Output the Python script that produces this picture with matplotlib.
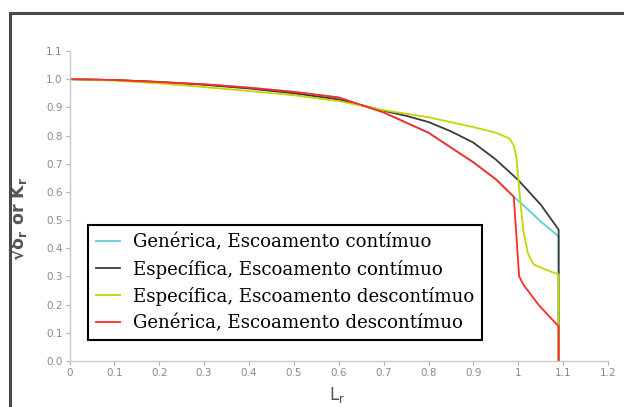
import matplotlib
matplotlib.use("Agg")
import matplotlib.pyplot as plt
from matplotlib.patches import Rectangle

# ---- data ----
x_gen = [0, 0.1, 0.2, 0.3, 0.4, 0.5, 0.6, 0.7, 0.8, 0.9, 0.95, 0.99]
y_gen = [1.0, 0.997, 0.99, 0.982, 0.97, 0.955, 0.935, 0.882, 0.81, 0.705, 0.645, 0.583]

x_gen_cont_tail = [1.02, 1.05, 1.09, 1.09]
y_gen_cont_tail = [0.54, 0.495, 0.442, 0.0]

x_gen_desc_tail = [1.002, 1.012, 1.026, 1.045, 1.065, 1.09, 1.09]
y_gen_desc_tail = [0.30, 0.27, 0.24, 0.20, 0.165, 0.123, 0.0]

x_esp_cont = [0, 0.1, 0.2, 0.3, 0.4, 0.5, 0.6, 0.7, 0.75, 0.8, 0.85, 0.9, 0.95, 1.0, 1.05, 1.09, 1.09]
y_esp_cont = [1.0, 0.997, 0.99, 0.98, 0.967, 0.95, 0.928, 0.888, 0.87, 0.848, 0.815, 0.775, 0.715, 0.642, 0.555, 0.466, 0.0]

x_esp_desc = [0, 0.1, 0.2, 0.3, 0.4, 0.5, 0.6, 0.7, 0.8, 0.9, 0.95, 0.98, 0.99, 0.996,
              1.0, 1.005, 1.012, 1.022, 1.034, 1.06, 1.09, 1.09]
y_esp_desc = [1.0, 0.995, 0.985, 0.972, 0.958, 0.943, 0.922, 0.89, 0.865, 0.83, 0.81, 0.79, 0.765, 0.72,
              0.65, 0.56, 0.455, 0.38, 0.343, 0.325, 0.307, 0.0]

labels = ["Genérica, Escoamento contímuo",
          "Específica, Escoamento contímuo",
          "Específica, Escoamento descontímuo",
          "Genérica, Escoamento descontímuo"]
colors = ["#5ccfd6", "#3a3a3a", "#c4d600", "#ff2a2a"]

xticks = [0, 0.1, 0.2, 0.3, 0.4, 0.5, 0.6, 0.7, 0.8, 0.9, 1.0, 1.1, 1.2]
xticklabels = ["0", "0.1", "0.2", "0.3", "0.4", "0.5", "0.6", "0.7", "0.8", "0.9", "1", "1.1", "1.2"]
yticks = [0.0, 0.1, 0.2, 0.3, 0.4, 0.5, 0.6, 0.7, 0.8, 0.9, 1.0, 1.1]
yticklabels = ["0.0", "0.1", "0.2", "0.3", "0.4", "0.5", "0.6", "0.7", "0.8", "0.9", "1.0", "1.1"]

# ---- figure ----
W, H = 624, 407
fig = plt.figure(figsize=(W / 100, H / 100), dpi=100)
fig.patch.set_facecolor("white")

# outer frame (top and left visible)
fig.patches.append(Rectangle((10 / W, -0.05), 1.2, (H - 13) / H + 0.05,
                             transform=fig.transFigure, fill=False,
                             edgecolor="#4a4a4a", linewidth=2.2))

ax = fig.add_axes([69.5 / W, (H - 361) / H, (608 - 69.5) / W, (361 - 51) / H])

lw = 1.3
ax.plot(x_gen + x_gen_cont_tail, y_gen + y_gen_cont_tail, color=colors[0], lw=lw, label=labels[0])
ax.plot(x_esp_cont, y_esp_cont, color=colors[1], lw=lw, label=labels[1])
ax.plot(x_esp_desc, y_esp_desc, color=colors[2], lw=lw, label=labels[2])
ax.plot(x_gen + x_gen_desc_tail, y_gen + y_gen_desc_tail, color=colors[3], lw=lw, label=labels[3])

ax.set_xlim(0, 1.2)
ax.set_ylim(0, 1.1)
ax.set_xticks(xticks)
ax.set_xticklabels(xticklabels)
ax.set_yticks(yticks)
ax.set_yticklabels(yticklabels)

for s in ["top", "right"]:
    ax.spines[s].set_visible(False)
for s in ["left", "bottom"]:
    ax.spines[s].set_color("#c8c8c8")
    ax.spines[s].set_linewidth(1.0)
ax.tick_params(axis="both", direction="out", length=3, width=0.8, color="#b0b0b0",
               labelcolor="#8a8a8a", labelsize=7.5, pad=2)

ax.set_xlabel(r"L$_\mathregular{r}$", fontsize=12, color="#555555", labelpad=1)
ax.xaxis.set_label_coords(0.497, -0.078)
ax.set_ylabel("\u221A\u03B4$_\\mathregular{r}$ or K$_\\mathregular{r}$", fontsize=12.5,
              color="#555555", fontweight="bold")
ax.yaxis.set_label_coords(-0.075, 0.46)

leg = ax.legend(loc="upper left", bbox_to_anchor=(88 / W, (H - 225) / H),
                bbox_transform=fig.transFigure, borderaxespad=0,
                prop={"family": "DejaVu Serif", "size": 13.1},
                frameon=True, fancybox=False, handlelength=1.3, handletextpad=0.7,
                labelspacing=0.45, borderpad=0.45)
fr = leg.get_frame()
fr.set_edgecolor("black")
fr.set_linewidth(1.5)
fr.set_alpha(1)

fig.savefig("out.png", dpi=100)
